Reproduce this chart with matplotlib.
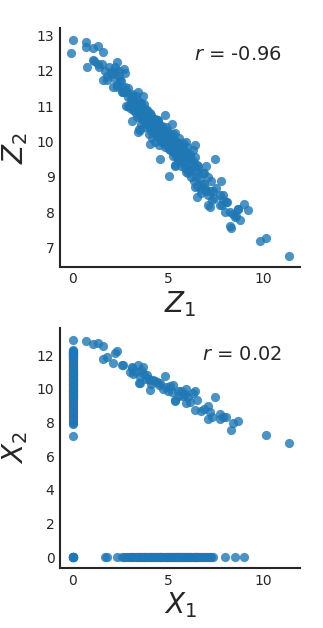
import matplotlib
matplotlib.use("Agg")
import matplotlib.pyplot as plt
import numpy as np

# points kept in both coordinates (off the axes in the lower panel)
z1_both = [0.68, 1.07, 1.33, 1.59, 1.56, 1.8, 2.08, 2.2, 2.33, 2.6, 2.65, 2.99, 3.08, 3.08,
           3.17, 3.3, 3.43, 3.48, 3.52, 3.52, 3.6, 3.7, 3.75, 3.85, 3.9, 4.0, 4.05, 4.05,
           4.1, 4.2, 4.3, 4.4, 4.5, 4.6, 4.75, 4.83, 4.9, 5.0, 5.1, 5.2, 5.27, 5.36, 5.39,
           5.5, 5.6, 5.71, 5.8, 5.9, 5.97, 5.97, 6.05, 6.15, 6.3, 6.41, 6.41, 6.5, 6.76,
           6.9, 7.11, 7.11, 7.2, 7.3, 7.46, 7.72, 7.72, 7.9, 8.07, 8.33, 8.42, 8.68,
           10.14, 11.37]
z2_both = [12.81, 12.65, 12.69, 12.53, 11.74, 11.86, 11.55, 12.1, 12.24, 11.41, 11.4, 11.01,
           11.21, 11.3, 10.9, 11.0, 11.4, 10.36, 10.7, 10.32, 11.1, 11.3, 10.9, 10.6, 10.8,
           10.6, 10.5, 9.92, 10.3, 10.55, 10.45, 10.4, 10.2, 10.35, 10.0, 10.75, 10.1, 9.9,
           10.15, 9.8, 10.2, 9.3, 9.33, 9.85, 9.6, 9.9, 9.55, 9.7, 10.0, 9.13, 9.5, 9.2,
           9.75, 9.9, 8.73, 9.35, 8.66, 8.8, 9.0, 8.2, 8.6, 8.35, 9.5, 8.5, 8.2, 8.35,
           8.3, 7.55, 7.95, 8.1, 7.28, 6.77]

# points whose first coordinate was zeroed (X1 = 0 column)
z1_col = [0.0, 0.75, 1.12, 1.38, 1.5, 1.98, 2.68, 2.73, 2.47, 2.2,
          1.05, 1.3, 1.9, 2.4, 2.05, 2.4, 2.15, 2.5, 2.3, 2.75, 2.9, 2.85, 3.1, 3.3,
          3.05, 3.4, 3.2, 3.6, 2.9, 3.75, 3.45, 3.9, 3.3, 4.1, 3.6, 4.3, 3.7, 4.45,
          3.85, 4.6, 4.0, 4.8, 4.2, 5.0, 4.35, 5.15, 4.55, 5.3, 4.7, 5.5, 4.9, 5.65,
          5.05, 5.85, 5.25, 6.0, 5.4, 6.15, 5.6, 6.3, 5.8, 6.6, 6.1, 6.9, 6.45, 7.78,
          6.8, 7.5, 7.0, 7.9, 7.4, 8.1, 7.85, 8.7, 8.25, 8.6, 9.82]
z2_col = [12.88, 12.11, 12.27, 12.11, 12.19, 11.96, 12.05, 11.93, 11.75, 11.99,
          12.3, 12.2, 12.1, 12.0, 11.9, 11.85, 11.8, 11.7, 11.6, 11.55, 11.5, 11.4, 11.35,
          11.3, 11.2, 11.15, 11.1, 11.05, 11.0, 10.95, 10.9, 10.85, 10.8, 10.75, 10.7,
          10.65, 10.6, 10.55, 10.5, 10.45, 10.4, 10.35, 10.3, 10.25, 10.2, 10.15, 10.1,
          10.05, 10.0, 9.95, 9.9, 9.85, 9.8, 9.75, 9.7, 9.65, 9.6, 9.55, 9.5, 9.45, 9.4,
          9.3, 9.2, 9.1, 9.0, 8.9, 8.8, 8.7, 8.6, 8.5, 8.4, 8.3, 8.2, 8.1, 8.0, 7.9, 7.2]

# points whose second coordinate was zeroed (X2 = 0 row)
z1_row = [1.68, 1.78, 2.3, 2.56, 2.7, 2.8, 2.9, 3.0, 3.1, 3.13, 3.2, 3.3, 3.35, 3.43,
          3.5, 3.55, 3.6, 3.7, 3.75, 3.8, 3.85, 3.95, 4.0, 4.05, 4.1, 4.15, 4.2, 4.25,
          4.3, 4.35, 4.4, 4.45, 4.5, 4.59, 4.6, 4.65, 4.7, 4.8, 4.85, 4.9, 4.95, 5.0,
          5.06, 5.1, 5.15, 5.2, 5.25, 5.3, 5.35, 5.4, 5.45, 5.5, 5.55, 5.6, 5.65, 5.7,
          5.75, 5.8, 5.85, 5.9, 5.95, 6.0, 6.05, 6.1, 6.15, 6.2, 6.3, 6.35, 6.4, 6.45,
          6.5, 6.55, 6.6, 6.7, 6.75, 6.85, 6.95, 7.0, 7.1, 7.2, 7.25, 7.38, 8.0, 8.53, 9.0]
z2_row = [12.0, 11.75, 11.55, 11.5, 11.4, 11.0, 11.25, 10.95, 11.2, 10.57, 10.9, 11.1, 10.7,
          10.28, 10.95, 10.8, 10.5, 10.65, 11.05, 10.4, 10.75, 10.55, 10.2, 10.8, 10.45,
          10.1, 10.65, 10.3, 10.0, 10.5, 10.15, 10.6, 9.9, 9.5, 10.3, 10.05, 10.45, 10.15,
          9.85, 10.4, 9.95, 10.3, 9.02, 9.75, 10.05, 10.5, 9.6, 9.9, 10.25, 9.7, 10.0, 9.45,
          9.8, 10.1, 9.55, 9.3, 9.7, 9.95, 9.4, 9.25, 9.6, 9.85, 9.1, 9.4, 9.65, 9.0, 9.35,
          8.9, 9.55, 9.15, 8.43, 8.75, 9.2, 8.95, 8.55, 9.1, 8.7, 9.3, 8.5, 8.14, 8.9, 8.6,
          8.0, 7.87, 8.25]

# points with both coordinates zeroed
z1_none = [9.21, 8.28, 8.77, 4.4, 5.7, 3.9, -0.12, 0.68]
z2_none = [8.07, 7.62, 7.78, 10.6, 9.7, 10.9, 12.5, 12.67]

r_top = "$r$ = -0.96"
r_bottom = "$r$ = 0.02"

blue = "#1f77b4"
dark = "#262626"

plt.rcParams["axes.edgecolor"] = dark
plt.rcParams["axes.linewidth"] = 1.5
plt.rcParams["xtick.color"] = dark
plt.rcParams["ytick.color"] = dark
plt.rcParams["axes.labelcolor"] = dark

z1 = np.array(z1_both + z1_col + z1_row + z1_none)
z2 = np.array(z2_both + z2_col + z2_row + z2_none)
x1 = np.array(z1_both + [0.0] * len(z1_col) + z1_row + [0.0] * len(z1_none))
x2 = np.array(z2_both + z2_col + [0.0] * len(z2_row) + [0.0] * len(z2_none))

fig = plt.figure(figsize=(3.23, 6.28), dpi=100)
ax1 = fig.add_axes([0.186, 0.575, 0.743, 0.380])
ax2 = fig.add_axes([0.186, 0.0955, 0.743, 0.382])


def style_axes(ax):
    for side in ["top", "right"]:
        ax.spines[side].set_visible(False)
    ax.tick_params(length=0, labelsize=10, pad=4)


ax1.scatter(z1, z2, s=44, color=blue, alpha=0.8, linewidths=0)
ax1.set_xlim(-0.68, 11.95)
ax1.set_ylim(6.46, 13.2)
ax1.set_xticks([0, 5, 10])
ax1.set_yticks([7, 8, 9, 10, 11, 12, 13])
ax1.set_xlabel("$Z_1$", fontsize=20, labelpad=2)
ax1.set_ylabel("$Z_2$", fontsize=20, labelpad=5)
ax1.text(0.925, 0.89, r_top, transform=ax1.transAxes, ha="right", va="center",
         fontsize=14, color=dark)
style_axes(ax1)

ax2.scatter(x1, x2, s=44, color=blue, alpha=0.8, linewidths=0)
ax2.set_xlim(-0.68, 11.95)
ax2.set_ylim(-0.63, 13.6)
ax2.set_xticks([0, 5, 10])
ax2.set_yticks([0, 2, 4, 6, 8, 10, 12])
ax2.set_xlabel("$X_1$", fontsize=20, labelpad=2)
ax2.set_ylabel("$X_2$", fontsize=20, labelpad=5)
ax2.text(0.925, 0.89, r_bottom, transform=ax2.transAxes, ha="right", va="center",
         fontsize=14, color=dark)
style_axes(ax2)

fig.savefig("out.png", dpi=100)
